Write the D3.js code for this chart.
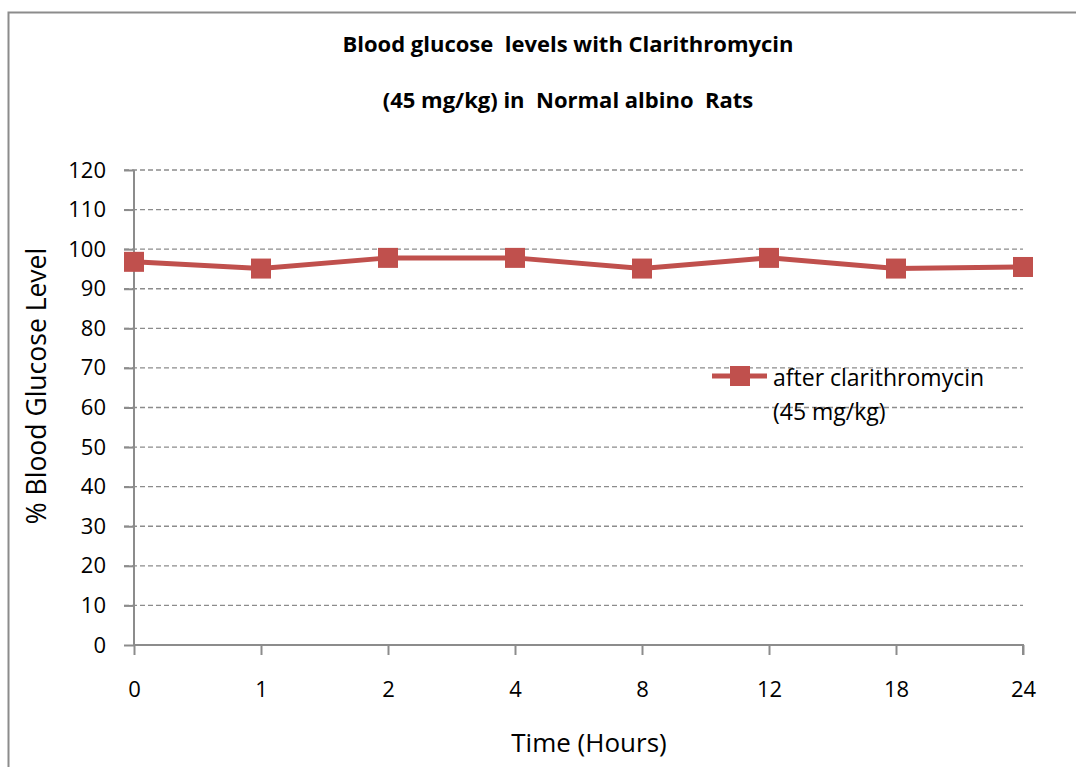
<!DOCTYPE html>
<html>
<head>
<meta charset="utf-8">
<script src="https://d3js.org/d3.v7.min.js"></script>
<style>
  body { margin: 0; background: #fff; overflow: hidden; }
  svg { display: block; }
  text { font-family: "Open Sans", sans-serif; fill: #000; }
</style>
</head>
<body>
<script>
var hours = ['0', '1', '2', '4', '8', '12', '18', '24'];
var glucose = [96.8, 95.1, 97.8, 97.8, 95.1, 97.8, 95.1, 95.5];
var yTicks = [0, 10, 20, 30, 40, 50, 60, 70, 80, 90, 100, 110, 120];
var seriesName = ['after clarithromycin', '(45 mg/kg)'];
var titleLines = ['Blood glucose  levels with Clarithromycin', '(45 mg/kg) in  Normal albino  Rats'];

var W = 1076, H = 767;
var plotLeft = 134, plotRight = 1023, plotTop = 170, plotBottom = 645;
var red = '#C0504D', grey = '#8c8c8c';

var svg = d3.select('body').append('svg')
  .attr('width', W).attr('height', H);

// chart frame (right and bottom edges fall outside the picture)
svg.append('rect')
  .attr('x', 8.5).attr('y', 12.5)
  .attr('width', 1100).attr('height', 800)
  .attr('fill', 'none').attr('stroke', grey).attr('stroke-width', 2);

var x = d3.scalePoint().domain(hours).range([plotLeft, plotRight]);
var y = d3.scaleLinear().domain([0, 120]).range([plotBottom, plotTop]);

// dashed gridlines
svg.append('g').selectAll('line')
  .data(yTicks.filter(function(d) { return d > 0; }))
  .enter().append('line')
  .attr('x1', plotLeft - 10).attr('x2', plotRight)
  .attr('y1', function(d) { return y(d); })
  .attr('y2', function(d) { return y(d); })
  .attr('stroke', grey).attr('stroke-width', 1.3)
  .attr('stroke-dasharray', '5,3');

// y axis
var yAxis = svg.append('g')
  .attr('transform', 'translate(' + plotLeft + ',0)')
  .call(d3.axisLeft(y).tickValues(yTicks).tickSize(10).tickPadding(18));
yAxis.selectAll('line, path').attr('stroke', grey).attr('stroke-width', 2);
yAxis.select('.domain').attr('d', 'M0,' + plotBottom + 'V' + plotTop);

// x axis
var xAxis = svg.append('g')
  .attr('transform', 'translate(0,' + plotBottom + ')')
  .call(d3.axisBottom(x).tickSize(10).tickPadding(26));
xAxis.selectAll('line, path').attr('stroke', grey).attr('stroke-width', 2);
xAxis.select('.domain').attr('d', 'M' + plotLeft + ',0H' + plotRight + 'V10');

svg.selectAll('.tick text')
  .attr('fill', '#000')
  .style('font-family', '"Open Sans", sans-serif')
  .style('font-size', '22px');

// series
var pts = hours.map(function(h, i) { return [h, glucose[i]]; });
svg.append('path')
  .datum(pts)
  .attr('fill', 'none').attr('stroke', red).attr('stroke-width', 5)
  .attr('d', d3.line().x(function(d) { return x(d[0]); }).y(function(d) { return y(d[1]); }));

svg.append('g').selectAll('rect')
  .data(pts).enter().append('rect')
  .attr('x', function(d) { return x(d[0]) - 10; })
  .attr('y', function(d) { return y(d[1]) - 10; })
  .attr('width', 20).attr('height', 20)
  .attr('fill', red);

// title
svg.selectAll('.title')
  .data(titleLines).enter().append('text')
  .attr('class', 'title')
  .attr('x', 568).attr('y', function(d, i) { return 52 + i * 56; })
  .attr('text-anchor', 'middle')
  .style('font-size', '22px').style('font-weight', 'bold')
  .style('white-space', 'pre')
  .text(function(d) { return d; });

// axis titles
svg.append('text')
  .attr('transform', 'translate(46,' + 386 + ') rotate(-90)')
  .attr('text-anchor', 'middle')
  .style('font-size', '26.5px')
  .text('% Blood Glucose Level');

svg.append('text')
  .attr('x', 589).attr('y', 752)
  .attr('text-anchor', 'middle')
  .style('font-size', '26px')
  .text('Time (Hours)');

// legend
var lg = svg.append('g').attr('transform', 'translate(712,376)');
lg.append('line').attr('x1', 0).attr('x2', 55).attr('y1', 0).attr('y2', 0)
  .attr('stroke', red).attr('stroke-width', 5);
lg.append('rect').attr('x', 18).attr('y', -10).attr('width', 20).attr('height', 20).attr('fill', red);
lg.selectAll('.leg').data(seriesName).enter().append('text')
  .attr('class', 'leg')
  .attr('x', 61).attr('y', function(d, i) { return 10 + i * 34; })
  .style('font-size', '23px')
  .text(function(d) { return d; });
</script>
</body>
</html>
